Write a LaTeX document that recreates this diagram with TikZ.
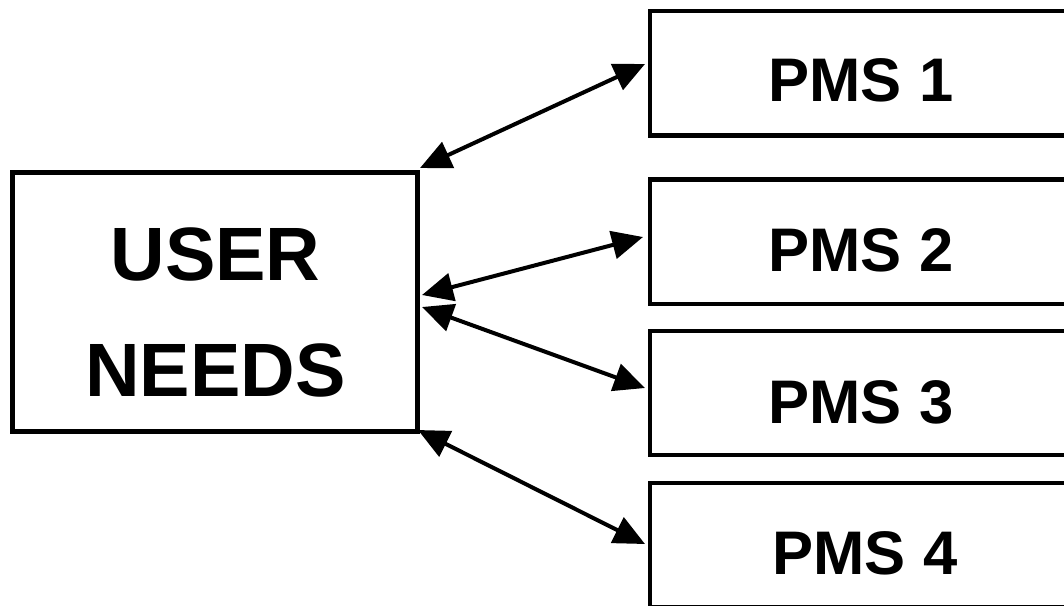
\documentclass[tikz,border=0pt]{standalone}
\usepackage{fontspec}
\setmainfont{Liberation Sans}
\usetikzlibrary{arrows.meta}
\begin{document}
\begin{tikzpicture}[x=0.01cm, y=-0.01cm]
        \tikzstyle{box} = [shape=rectangle, draw, line width=0.045cm, inner sep=0pt]
        \tikzstyle{pms} = [box, minimum width=4.22cm, minimum height=1.24cm]
        \tikzstyle{lbl} = [inner sep=0pt, font=\bfseries\fontsize{17.5}{21}\selectfont]
        \tikzstyle{link} = [{Triangle[length=0.31cm, width=0.28cm]}-{Triangle[length=0.31cm, width=0.28cm]}, line width=0.04cm]

        \useasboundingbox (0,0) rectangle (1064,605);
        \clip (0,0) rectangle (1064,605);

        \node[box, minimum width=4.05cm, minimum height=2.585cm] (user) at (215,302) {};
        \node[lbl, align=center, font=\bfseries\fontsize{21.5}{33}\selectfont] (userlbl)
            at (215.5,312) {USER\\NEEDS};

            \node[pms] (pms1) at (861,73.25) {};
            \node[pms] (pms2) at (861,241.75) {};
            \node[pms] (pms3) at (861,393) {};
            \node[pms] (pms4) at (861,545) {};

            \node[lbl] (pms1lbl) at (861,80.5) {PMS 1};
            \node[lbl] (pms2lbl) at (861,250) {PMS 2};
            \node[lbl] (pms3lbl) at (861,402) {PMS 3};
            \node[lbl] (pms4lbl) at (865,553) {PMS 4};

        % arrow ends
        \coordinate (u1) at (420,168);
        \coordinate (u2) at (422,295);
        \coordinate (u3) at (422,307);
        \coordinate (u4) at (418,430);
        \coordinate (p1) at (645,64);
        \coordinate (p2) at (643,237);
        \coordinate (p3) at (645,388);
        \coordinate (p4) at (645,544);

            \draw[link] (u1) -- (p1);
            \draw[link] (u2) -- (p2);
            \draw[link] (u3) -- (p3);
            \draw[link] (u4) -- (p4);

\end{tikzpicture}
\end{document}
